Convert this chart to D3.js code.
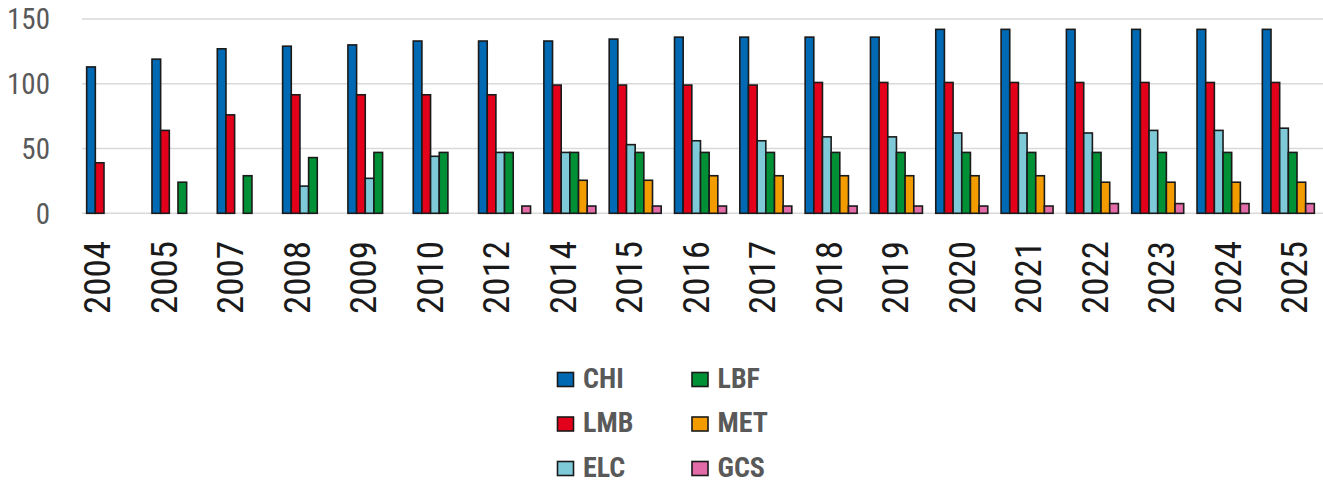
<!DOCTYPE html>
<html><head><meta charset="utf-8">
<script src="https://cdn.jsdelivr.net/npm/d3@7"></script>
<style>
html,body{margin:0;padding:0;background:#fff;}
svg{display:block;}
.narrow{font-family:"Liberation Sans Narrow","Arial Narrow","Roboto Condensed","Liberation Sans",sans-serif;}
</style></head>
<body>
<svg id="chart" width="1323" height="484"></svg>
<script>
const categories = ['2004','2005','2007','2008','2009','2010','2012','2014','2015','2016','2017','2018','2019','2020','2021','2022','2023','2024','2025'];
const seriesNames = ['CHI','LMB','ELC','LBF','MET','GCS'];
const CHI = [113,119,127,129,130,133,133,133,134.5,136,136,136,136,142,142,142,142,142,142];
const LMB = [39,64,76,91.5,91.5,91.5,91.5,99,99,99,99,101,101,101,101,101,101,101,101];
const ELC = [null,null,null,21,27,44,47,47,53,56,56,59,59,62,62,62,64,64,65.7];
const LBF = [null,24,29,43,47,47,47,47,47,47,47,47,47,47,47,47,47,47,47];
const MET = [null,null,null,null,null,null,null,25.5,25.5,29,29,29,29,29,29,24,24,24,24];
const GCS = [null,null,null,null,null,null,5.6,5.6,5.6,5.6,5.6,5.6,5.6,5.6,5.6,7.5,7.5,7.5,7.5];
const yTicks = [0,50,100,150];
const colors = {CHI:'#0069b4',LMB:'#e2001a',ELC:'#7fcad9',LBF:'#009036',MET:'#f39c00',GCS:'#e36ba7'};
const values = {CHI,LMB,ELC,LBF,MET,GCS};

const svg = d3.select('#chart');
const y = d3.scaleLinear().domain([0,150]).range([213.3,19]);
const x = d3.scaleBand().domain(categories).range([80,1321]).paddingInner(0.204).paddingOuter(0.102);
const xs = d3.scaleBand().domain(seriesNames).range([0,x.bandwidth()]);
const xLabel = d3.scalePoint().domain(categories).range([96.5,1293.5]);

// gridlines
svg.append('g').selectAll('line').data(yTicks).join('line')
  .attr('x1',82).attr('x2',1323)
  .attr('y1',d=>y(d)).attr('y2',d=>y(d))
  .attr('stroke','#d9d9d9').attr('stroke-width',1.5);

// y labels
svg.append('g').attr('class','narrow').selectAll('text').data(yTicks).join('text')
  .attr('x',50).attr('y',d=>y(d)).attr('dy','0.36em')
  .attr('text-anchor','end').attr('fill','#595959').attr('font-size',29)
  .text(d=>d);

// bars
const data = [];
categories.forEach((c,i)=>seriesNames.forEach(s=>{ if(values[s][i]!=null) data.push({c,s,v:values[s][i]}); }));
svg.append('g').selectAll('rect').data(data).join('rect')
  .attr('x',d=>x(d.c)+xs(d.s)).attr('width',xs.bandwidth())
  .attr('y',d=>y(d.v)).attr('height',d=>y(0)-y(d.v))
  .attr('fill',d=>colors[d.s]).attr('stroke','#1a1a1a').attr('stroke-width',1.6);

// x labels
const xa = svg.append('g').attr('transform','translate(0,241)')
  .call(d3.axisBottom(xLabel).tickSize(0).tickPadding(0));
xa.select('.domain').remove();
xa.selectAll('text').attr('class','narrow')
  .attr('transform','rotate(-90)').attr('text-anchor','end')
  .attr('x',0).attr('y',0).attr('dy','0.36em')
  .attr('font-size',37).attr('fill','#1a1a1a');

// legend
const legendItems = [
  {s:'CHI',col:0,row:0},{s:'LMB',col:0,row:1},{s:'ELC',col:0,row:2},
  {s:'LBF',col:1,row:0},{s:'MET',col:1,row:1},{s:'GCS',col:1,row:2}];
const lg = svg.append('g').selectAll('g').data(legendItems).join('g')
  .attr('transform',d=>`translate(${557.5+d.col*134.5},${372.5+d.row*44.5})`);
lg.append('rect').attr('width',16).attr('height',14)
  .attr('fill',d=>colors[d.s]).attr('stroke','#1a1a1a').attr('stroke-width',1.6);
lg.append('text').attr('class','narrow').attr('x',25.5).attr('y',15)
  .attr('font-size',28).attr('font-weight','bold').attr('fill','#595959')
  .text(d=>d.s);
</script>
</body></html>
